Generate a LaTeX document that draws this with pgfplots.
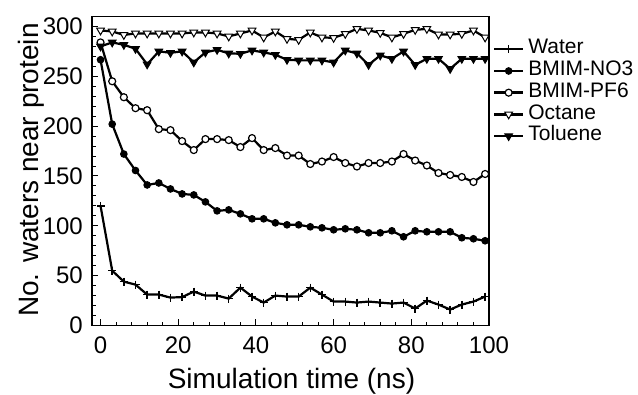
\documentclass[border=0pt]{standalone}
\usepackage{fontspec}
\setmainfont{Liberation Sans}
\usepackage{pgfplots}
\usepackage{pgfplotstable}
\pgfplotsset{compat=1.18}
\pgfplotstableread{
x water no3 pf6 oct tol
0 120 266.6 284 296 280
3 55 202 245 295 284
6 44 172 229 291.5 281.6
9 41 155.5 218 293 277.6
12 31 141 216 293 262
15 31 143 197 293 275
18 28 137 196 293 273.6
21 28.5 132 185 293 275
24 34 131 176 294 264
27 30 124 187 294 274
30 30 115 187 293 276.6
33 27 116 186 290 273
36 38 112 179 293 272.6
39 29 107 188 296 276
42 23 107 176 289 274
45 30 103 178 295 271.6
48 29 101 170.5 287.6 266.6
51 29 101 170.5 286.6 266
54 38 99 162 294 266
57 31 98 164.5 289 266
60 24 96 169 288.6 264
63 24 97 163 292.6 276
66 23 96 159.5 297.6 273
69 24 93 163 296 261.5
72 23 93 163 293.6 271
75 22 95 164.5 289 267.6
78 23 89 172 292.6 275
81 17 95 165.5 296.6 261.5
84 25 94 160.5 297.6 267.6
87 21 94 153 292 267.6
90 16 94 151 292 257.5
93 21 88 149 292.6 267.6
96 24 87 144 296 267.6
99 29 85 152 289 267.6
}\datatable
\begin{document}
\begin{tikzpicture}
\path[use as bounding box] (0pt,0pt) rectangle (638pt,395pt);
\begin{axis}[
  at={(92pt,69.5pt)}, anchor=south west,
  scale only axis, width=397pt, height=309pt,
  xmin=-2.2, xmax=100, ymin=0, ymax=310,
  xtick={0,20,...,100}, ytick={0,50,...,300},
  minor x tick num=4, minor y tick num=4,
  xtick pos=bottom, ytick pos=left, tick align=inside,
  major tick length=6pt, minor tick length=3.5pt,
  every tick/.style={black, line width=1pt},
  axis line style={line width=1.3pt},
  /pgf/number format/assume math mode=true,
  ticklabel style={font=\fontsize{24}{24}\selectfont},
  xticklabel style={inner sep=0pt, yshift=-11pt},
  yticklabel style={inner sep=0pt, xshift=-9pt},
  xlabel={Simulation time (ns)},
  ylabel={No. waters near protein},
  label style={font=\fontsize{28}{28}\selectfont},
  xlabel style={anchor=base, at={(axis description cs:0.5025,-0.203)}},
  ylabel style={anchor=base, at={(axis description cs:-0.136,0.503)}},
  legend style={at={(1.010,0.929)}, anchor=north west, draw=none, fill=none,
    inner sep=0pt, outer sep=0pt, row sep=0pt,
    font=\fontsize{21}{21}\selectfont,
    nodes={inner ysep=0pt, inner xsep=0pt, text height=15.5pt, text depth=6.2pt},
    cells={anchor=west},
    /tikz/every odd column/.append style={column sep=4pt}},
  legend image code/.code={
    \draw[#1, line width=2.4pt, mark=none] (0pt,0pt) -- (29pt,0pt);
    \draw[#1, only marks, mark repeat=2, mark phase=2] plot coordinates {(0pt,0pt) (14.5pt,0pt) (29pt,0pt)};},
  every axis plot/.append style={black, line width=2.2pt},
]
\addplot[line width=2.2pt, mark=+, mark size=4pt, mark options={line width=1.5pt}] table[x=x,y=water] {\datatable};
\addplot[line width=2.2pt, mark=*, mark size=3.3pt, mark options={fill=black, line width=1pt}] table[x=x,y=no3] {\datatable};
\addplot[line width=2.2pt, mark=*, mark size=3.5pt, mark options={fill=white, line width=1.2pt}] table[x=x,y=pf6] {\datatable};
\addplot[line width=2.2pt, mark=triangle*, mark size=4.4pt, mark options={fill=white, rotate=180, line width=1pt}] table[x=x,y=oct] {\datatable};
\addplot[line width=2.2pt, mark=triangle*, mark size=4.4pt, mark options={fill=black, rotate=180, line width=1pt}] table[x=x,y=tol] {\datatable};
\legend{Water, BMIM-NO3, BMIM-PF6, Octane, Toluene}
\end{axis}
\end{tikzpicture}
\end{document}
